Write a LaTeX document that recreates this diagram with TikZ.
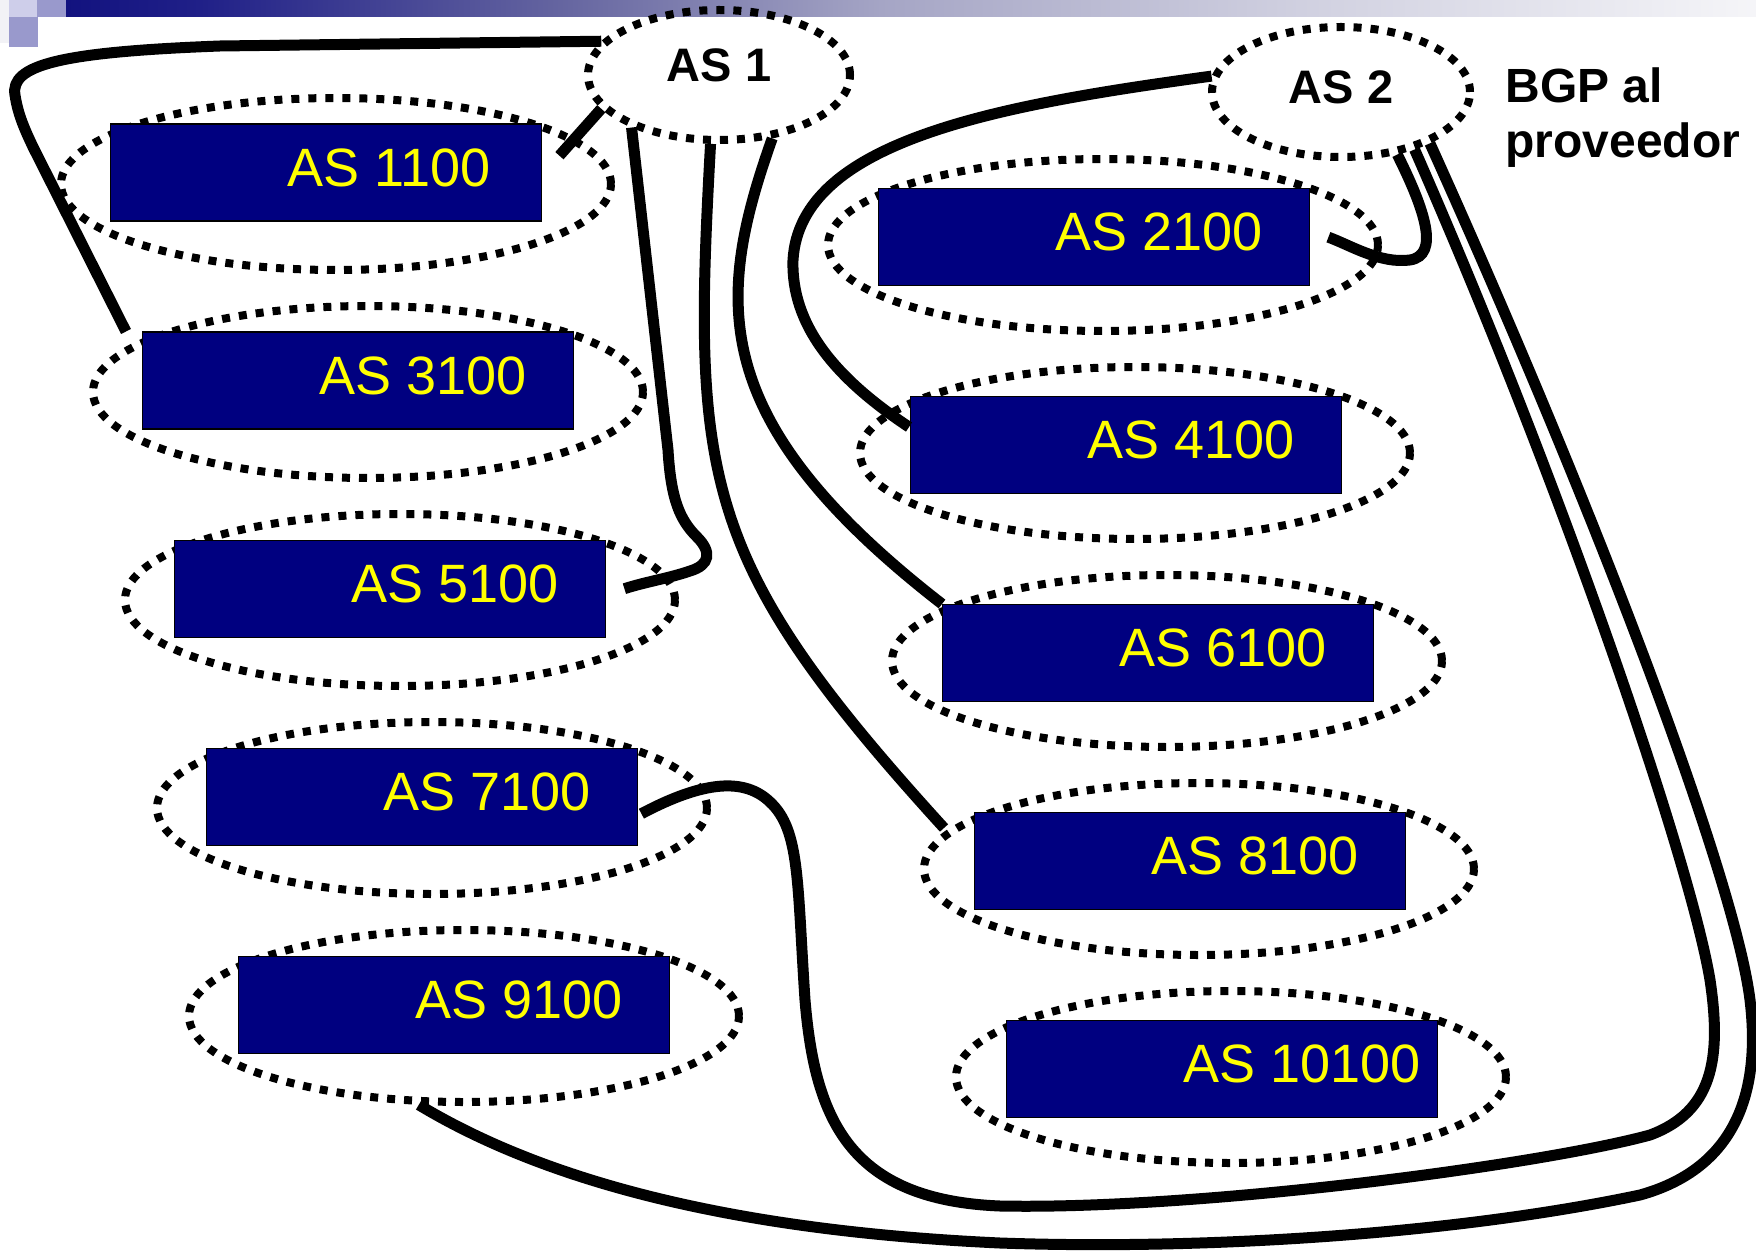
\documentclass[tikz,border=0pt]{standalone}
\usepackage{fontspec}
\setmainfont{Liberation Sans}
\usetikzlibrary{shapes.geometric,calc}
\definecolor{asnavy}{RGB}{0,0,128}
\definecolor{asyellow}{RGB}{255,255,0}
\definecolor{barA}{RGB}{18,18,127}
\definecolor{barB}{RGB}{32,32,136}
\definecolor{barC}{RGB}{101,101,160}
\definecolor{barD}{RGB}{165,165,197}
\definecolor{barE}{RGB}{208,208,224}
\definecolor{barF}{RGB}{245,245,248}
\definecolor{sqlight}{RGB}{206,206,234}
\definecolor{sqmid}{RGB}{153,153,204}
\definecolor{sqpale}{RGB}{242,242,246}
\newcommand{\boxtxt}[1]{\makebox[215.5pt][l]{\hspace*{88.5pt}#1}}
\begin{document}
\begin{tikzpicture}[x=0.5pt,y=-0.5pt,
  conn/.style={line width=5.5pt},
  dotline/.style={draw, line width=4pt, dash pattern=on 4pt off 4.5pt},
  asell/.style={ellipse, dotline, minimum width=275pt, minimum height=86pt, inner sep=0pt},
  topell/.style={ellipse, dotline, inner sep=0pt, font=\fontsize{23.5}{26}\selectfont\bfseries},
  asbox/.style={draw=black, line width=0.7pt, fill=asnavy, anchor=north west,
     minimum width=215.5pt, minimum height=48.5pt, inner sep=0pt,
     text=asyellow, font=\fontsize{27}{30}\selectfont,
     text height=31pt, text depth=17.5pt}
]
\useasboundingbox (0,0) rectangle (1756,1251);
% header decoration
\fill[sqpale] (0,0) rectangle (9,43);
\fill[sqlight] (9,0) rectangle (37,17);
\fill[sqmid] (37,0) rectangle (66,17);
\fill[sqmid] (9,17) rectangle (38,47);
\shade[left color=barA, right color=barB] (66,0) rectangle (200.5,17);
\shade[left color=barB, right color=barC] (200,0) rectangle (560.5,17);
\shade[left color=barC, right color=barD] (560,0) rectangle (880.5,17);
\shade[left color=barD, right color=barE] (880,0) rectangle (1300.5,17);
\shade[left color=barE, right color=barF] (1300,0) rectangle (1756,17);

% top AS nodes
\node[topell, minimum width=131pt, minimum height=65pt, text depth=9.5pt] (as1) at (719,75) {AS 1};
\node[topell, minimum width=129pt, minimum height=65pt, text depth=5pt] (as2) at (1341,92) {AS 2};
\node[anchor=base west, align=left, inner sep=0pt, font=\fontsize{24}{27.5}\selectfont\bfseries] (bgp) at (1505,158) {BGP al\\proveedor};

% left column
\node[asell] (e1100) at (336,184) {};
\node[asell] (e3100) at (368,392) {};
\node[asell] (e5100) at (400,600) {};
\node[asell] (e7100) at (432,808) {};
\node[asell] (e9100) at (464,1016) {};
\node[asbox] (b1100) at (110,123.5) {\boxtxt{AS 1100}};
\node[asbox] (b3100) at (142,331.5) {\boxtxt{AS 3100}};
\node[asbox] (b5100) at (174,539.5) {\boxtxt{AS 5100}};
\node[asbox] (b7100) at (206,747.5) {\boxtxt{AS 7100}};
\node[asbox] (b9100) at (238,955.5) {\boxtxt{AS 9100}};

% right column
\node[asell] (e2100) at (1103,245) {};
\node[asell] (e4100) at (1135,453) {};
\node[asell] (e6100) at (1167,661) {};
\node[asell] (e8100) at (1199,869) {};
\node[asell] (e10100) at (1231,1077) {};
\node[asbox] (b2100) at (878,188) {\boxtxt{AS 2100}};
\node[asbox] (b4100) at (910,396) {\boxtxt{AS 4100}};
\node[asbox] (b6100) at (942,604) {\boxtxt{AS 6100}};
\node[asbox] (b8100) at (974,812) {\boxtxt{AS 8100}};
\node[asbox] (b10100) at (1006,1020) {\boxtxt{AS 10100}};

% connectors from AS 1
\draw[conn] (as1.164) -- (220,46) .. controls (60,52) and (10,65) .. (15,95)
  .. controls (18,115) and (25,130) .. (33,147) -- ($(b3100.north west)+(-16,0)$);
\draw[conn] (as1.196) -- ($(b1100.east)+(17,-17)$);
\draw[conn] (as1.211) -- (668,450) .. controls (671,500) and (680,520) .. (697,537)
  .. controls (712,552) and (710,565) .. (690,571)
  .. controls (670,578) and (645,582) .. ($(b5100.east)+(18,0)$);
\draw[conn] (as1.263) .. controls (692,480) and (700,560) .. ($(b8100.north west)+(-30,16)$);
\draw[conn] (as1.310) .. controls (715,300) and (705,420) .. (b6100.north west);

% connectors from AS 2
\draw[conn] (as2.173) .. controls (1000,105) and (800,140) .. (793,260)
  .. controls (791,325) and (835,378) .. ($(b4100.north west)+(-1,31)$);
\draw[conn] (as2.312) .. controls (1425,210) and (1440,255) .. (1410,260)
  .. controls (1380,264) and (1350,245) .. ($(b2100.east)+(18,0)$);
\draw[conn] (as2.322) .. controls (1560,480) and (1690,860) .. (1710,980)
  .. controls (1722,1060) and (1712,1112) .. (1650,1135)
  .. controls (1540,1165) and (1200,1210) .. (1000,1206)
  .. controls (850,1200) and (815,1120) .. (805,1000)
  .. controls (797,880) and (800,830) .. (770,802)
  .. controls (745,778) and (705,780) .. ($(b7100.east)+(3,17)$);
\draw[conn] (as2.330) .. controls (1600,520) and (1735,880) .. (1750,1000)
  .. controls (1762,1100) and (1730,1170) .. (1640,1195)
  .. controls (1450,1235) and (1200,1250) .. (1000,1243)
  .. controls (760,1232) and (560,1190) .. (e9100.243);
\end{tikzpicture}
\end{document}
